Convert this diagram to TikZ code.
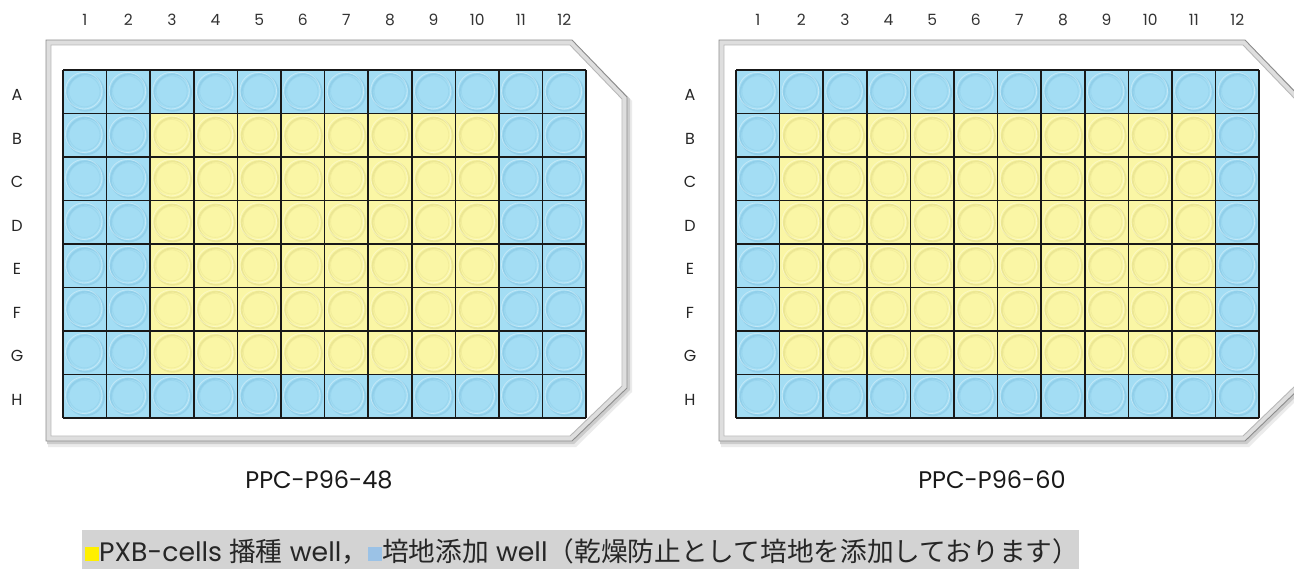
\documentclass[tikz,border=0pt]{standalone}
\usepackage{fontspec}
\setmainfont{Poppins}
\newfontfamily\cjk{Noto Sans CJK JP}
\definecolor{wellblue}{RGB}{163,221,244}
\definecolor{ringblue}{RGB}{125,192,222}
\definecolor{wellyel}{RGB}{250,246,165}
\definecolor{ringyel}{RGB}{220,213,128}
\definecolor{legbg}{RGB}{211,211,211}
\definecolor{legyel}{RGB}{255,240,0}
\definecolor{legblue}{RGB}{155,194,230}
\tikzset{
  collab/.style={font=\fontsize{15.5}{15.5}\selectfont, text=black!80, inner sep=0pt},
  rowlab/.style={font=\fontsize{16}{16}\selectfont, text=black!85, inner sep=0pt},
  platetitle/.style={font=\fontsize{24}{24}\selectfont, text=black!90, inner sep=0pt},
  legendtext/.style={font=\fontsize{26.7}{26.7}\selectfont, text=black!85, inner sep=0pt, anchor=base west},
  gridline/.style={line width=1.5pt, black!90},
}
\newcommand\drawplate[4]{%
\begin{scope}[xshift=#1pt]
  % shadow
  \fill[black!8] (48,44)--(576,44)--(632,101)--(632,392)--(576,447)--(48,447)--cycle;
  \fill[black!20] (47,42)--(574,42)--(630,99)--(630,390)--(574,444)--(47,444)--cycle;
  % outer frame
  \filldraw[fill=black!13, draw=black!45, line width=0.9pt]
    (46,40)--(572,40)--(627,97)--(627,388)--(572,441)--(46,441)--cycle;
  \filldraw[fill=white, draw=black!28, line width=0.9pt]
    (51,45)--(570,45)--(622,99)--(622,386)--(570,436)--(51,436)--cycle;
  % wells
  \foreach \c in {1,...,12}{
    \foreach \r in {1,...,8}{
      \pgfmathtruncatemacro\isy{and(and(\r>1,\r<8),and(\c>=#2,\c<=#3))}
      \pgfmathsetmacro\xa{63+(\c-1)*43.6}
      \pgfmathsetmacro\ya{70+(\r-1)*43.5}
      \ifnum\isy=1 \def\fc{wellyel}\def\rc{ringyel}\else\def\fc{wellblue}\def\rc{ringblue}\fi
      \fill[\fc] (\xa,\ya) rectangle ++(43.6,43.5);
      \draw[\rc, line width=1.8pt, opacity=0.45] (\xa+22.6,\ya+22.5) circle (18.3);
      \draw[\rc, line width=0.8pt, opacity=0.25] (\xa+21.5,\ya+21.4) circle (15.5);
      \draw[white, line width=0.8pt, opacity=0.35] (\xa+20.8,\ya+20.7) circle (18.3);
    }
  }
  % grid
  \foreach \i in {0,...,12}{
    \draw[gridline] (63+\i*43.6,70) -- (63+\i*43.6,418);
  }
  \foreach \j in {0,...,8}{
    \draw[gridline] (63,70+\j*43.5) -- (586.2,70+\j*43.5);
  }
  % column labels
  \foreach \c in {1,...,12}{
    \node[collab] (col#4\c) at (63+\c*43.6-21.8,20) {\c};
  }
  % row labels
  \foreach \r/\L in {1/A,2/B,3/C,4/D,5/E,6/F,7/G,8/H}{
    \node[rowlab] (row#4\L) at (17,70+\r*43.5-21.75+3.5) {\L};
  }
\end{scope}}
\begin{document}
\begin{tikzpicture}[x=1pt,y=-1pt]
\useasboundingbox (0,0) rectangle (1294,568);
\clip (0,0) rectangle (1294,568);
\fill[white] (0,0) rectangle (1294,568);
\drawplate{0}{3}{10}{L}
\drawplate{673}{2}{11}{R}
\node[platetitle] (titleL) at (319,480) {PPC-P96-48};
\node[platetitle] (titleR) at (992,480) {PPC-P96-60};
% legend
\fill[legbg] (82,530) rectangle (1079,575);
\node[legendtext] (legend) at (85,561) {\textcolor{legyel}{\rule{14pt}{14pt}}PXB-cells {\cjk 播種} well{\cjk ，}\textcolor{legblue}{\rule{14pt}{14pt}}{\cjk 培地添加} well{\cjk （乾燥防止として培地を添加しております）}};
\end{tikzpicture}
\end{document}
